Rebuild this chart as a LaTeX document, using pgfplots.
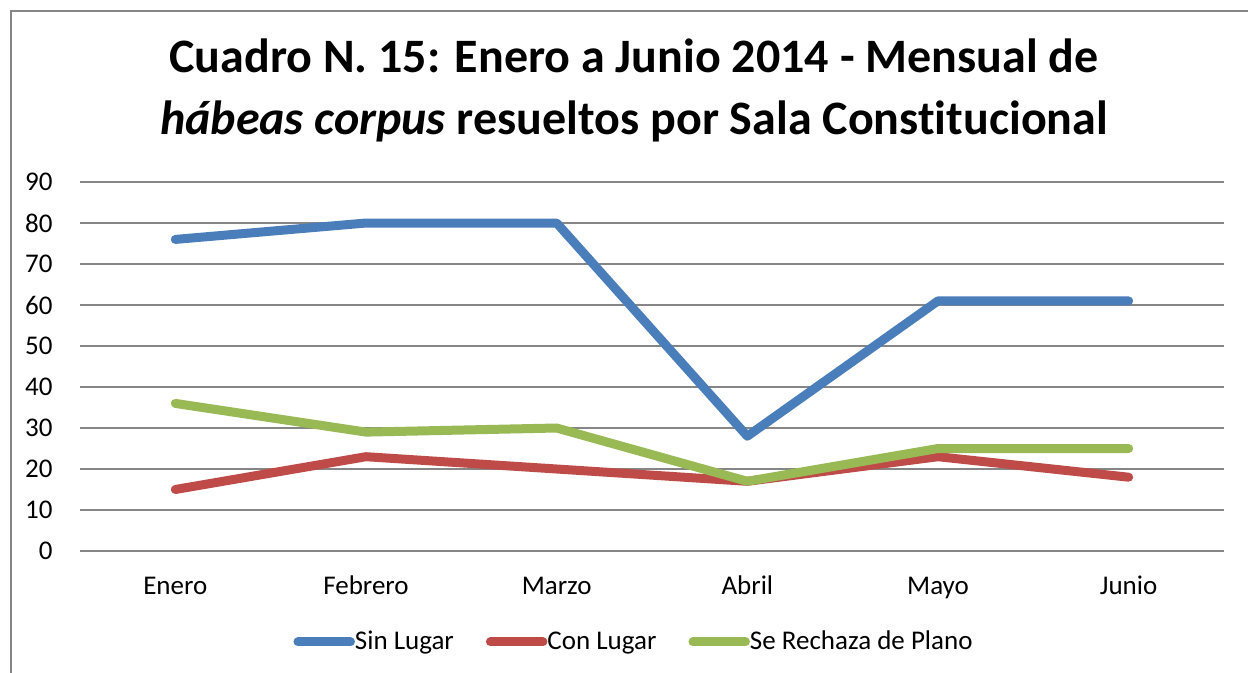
\documentclass[border=0pt]{standalone}
\usepackage{fontspec}
\setmainfont{Carlito}[Ligatures=NoCommon]
\usepackage{pgfplots}
\pgfplotsset{compat=1.18}

\definecolor{sinlugar}{HTML}{4A7EBB}
\definecolor{conlugar}{HTML}{BE4B48}
\definecolor{rechaza}{HTML}{98B954}
\definecolor{gridgray}{HTML}{868686}

\begin{document}
\begin{tikzpicture}
% 1 px of the reference = 0.5pt
\useasboundingbox (0pt,0pt) rectangle (624pt,-336.5pt);
% chart frame, cut off on the right and at the bottom
\draw[gridgray, line width=1pt] (5.5pt,-345pt) -- (5.5pt,-5.5pt) -- (630pt,-5.5pt);
\node[font=\fontsize{24}{31}\selectfont\bfseries, align=center, anchor=base]
  at (317pt,-67.5pt) {Cuadro N. 15: Enero a Junio 2014 - Mensual de\\
  \textit{hábeas corpus} resueltos por Sala Constitucional};
\begin{axis}[
    at={(40pt,-275.5pt)}, anchor=south west,
    scale only axis,
    width=572pt, height=184.5pt,
    xmin=-0.5, xmax=5.5,
    ymin=0, ymax=90,
    ytick={0,10,...,90},
    xtick={0,...,5},
    xticklabels={Enero,Febrero,Marzo,Abril,Mayo,Junio},
    axis line style={draw=none},
    major tick length=0pt,
    ymajorgrids,
    grid style={gridgray, line width=1pt},
    tick label style={font=\fontsize{13.5}{16}\selectfont},
    /pgf/number format/assume math mode=true,
    yticklabel style={anchor=east, inner sep=0pt, xshift=-13.5pt},
    xticklabel style={anchor=base, inner sep=0pt, yshift=-21.5pt},
    clip=false,
    legend columns=3,
    legend style={
        at={(0.181,-0.2466)}, anchor=west,
        draw=none, fill=none,
        font=\fontsize{13.5}{16}\selectfont,
        nodes={inner sep=0pt, anchor=west},
        /tikz/every even column/.append style={column sep=16pt},
    },
    legend image code/.code={
        \draw[#1, line width=4.5pt, line cap=round] (2.25pt,0pt) -- (28.5pt,0pt);
    },
    every axis plot/.append style={line width=4.5pt, line cap=round, line join=round},
]
\addplot[sinlugar] coordinates {(0,76) (1,80) (2,80) (3,28) (4,61) (5,61)};
\addlegendentry{Sin Lugar}
\addplot[conlugar] coordinates {(0,15) (1,23) (2,20) (3,17) (4,23) (5,18)};
\addlegendentry{Con Lugar}
\addplot[rechaza] coordinates {(0,36) (1,29) (2,30) (3,17) (4,25) (5,25)};
\addlegendentry{Se Rechaza de Plano}
\end{axis}
\end{tikzpicture}
\end{document}
